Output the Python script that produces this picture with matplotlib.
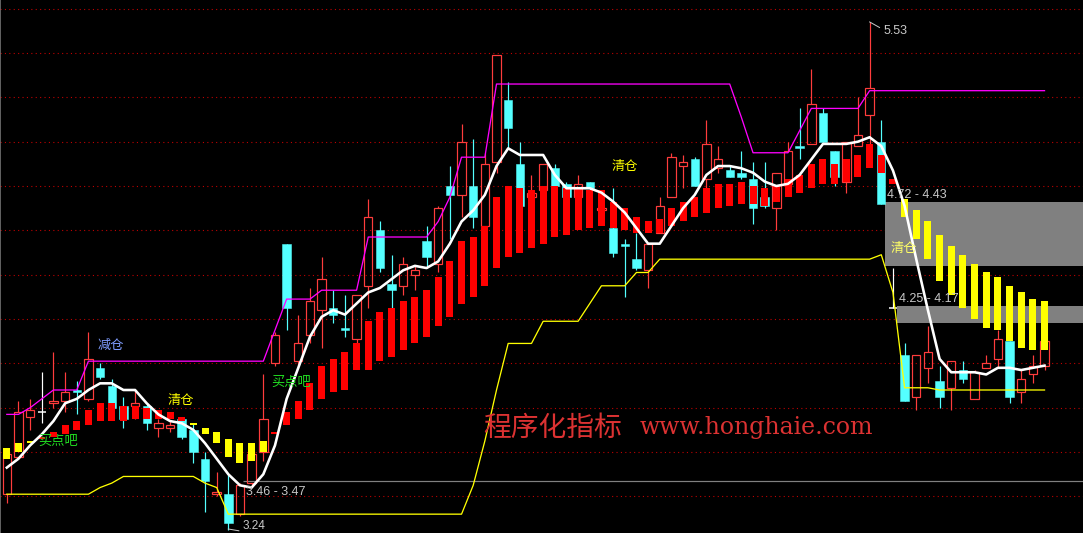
import matplotlib
matplotlib.use("Agg")
import matplotlib.pyplot as plt
from matplotlib.patches import Rectangle
import numpy as np

# ---------------- data (prices) ----------------
opens = [3.40,3.57,3.75,3.77,3.81,3.82,3.87,3.83,3.97,3.89, 3.80,3.80,3.80,3.70,3.70,3.74,3.69,3.56,3.40,3.40,
         3.31,3.45,3.59,3.99,4.53,4.00,4.12,4.23,4.24,4.15, 4.10,4.34,4.59,4.35,4.34,4.39,4.54,4.44,4.79,4.75,
         4.79,4.61,4.90,5.18,4.89,4.74,4.77,4.87,4.80,4.74, 4.81,4.68,4.60,4.53,4.46,4.41,4.58,4.74,4.88,4.91,
         4.82,4.87,4.86,4.85,4.82,4.74,4.69,4.80,4.97,4.98, 5.12,4.95,4.81,4.97,5.11,4.99,4.24,4.03,3.84,3.97,
         3.91,3.88,3.96,3.83,3.97,4.01,4.09,3.86,3.94,3.98]
closes = [3.58,3.77,3.78,3.77,3.82,3.86,3.86,4.01,3.93,3.79, 3.74,3.81,3.72,3.72,3.71,3.66,3.59,3.46,3.41,3.27,
          3.44,3.58,3.74,4.12,4.24,4.08,4.27,4.37,4.21,4.14, 4.30,4.65,4.42,4.32,4.44,4.41,4.47,4.69,4.75,4.99,
          4.65,4.89,5.38,5.05,4.70,4.76,4.89,4.79,4.74,4.80, 4.78,4.69,4.49,4.52,4.42,4.53,4.70,4.92,4.90,4.79,
          4.98,4.91,4.83,4.83,4.69,4.70,4.85,4.95,4.96,5.16, 4.99,4.83,4.99,5.02,5.23,4.71,4.24,3.82,4.03,4.04,
          3.84,4.00,3.92,3.95,3.99,4.10,3.84,3.92,3.98,4.09]
highs = [3.58,3.82,3.83,3.95,4.04,3.95,3.91,4.13,3.99,3.92, 3.84,3.87,3.81,3.74,3.73,3.75,3.72,3.59,3.50,3.49,
         3.45,3.60,3.94,4.13,4.53,4.21,4.33,4.47,4.32,4.30, 4.30,4.73,4.63,4.48,4.47,4.43,4.61,4.70,4.88,5.07,
         5.00,4.94,5.38,5.26,4.99,4.84,4.89,4.89,4.81,4.84, 4.81,4.77,4.78,4.55,4.58,4.53,4.74,4.94,4.93,4.92,
         5.09,4.97,4.88,4.95,4.90,4.90,4.85,4.99,5.14,5.32, 5.14,4.95,4.99,5.19,5.53,5.09,4.42,4.08,4.03,4.16,
         3.98,4.00,4.00,3.96,4.03,4.14,4.09,3.96,4.03,4.09]
lows = [3.36,3.57,3.69,3.72,3.79,3.77,3.76,3.82,3.92,3.78, 3.70,3.74,3.69,3.66,3.68,3.65,3.54,3.32,3.39,3.24,
        3.30,3.44,3.55,3.98,4.14,3.97,4.08,4.06,4.17,4.11, 4.08,4.24,4.40,4.24,4.30,4.32,4.42,4.40,4.55,4.65,
        4.60,4.61,4.85,4.96,4.69,4.73,4.77,4.77,4.73,4.74, 4.77,4.68,4.47,4.29,4.41,4.33,4.58,4.74,4.78,4.79,
        4.78,4.85,4.83,4.82,4.62,4.69,4.59,4.80,4.91,4.98, 4.99,4.79,4.76,4.97,4.98,4.71,4.24,3.82,3.78,3.90,
        3.79,3.78,3.90,3.83,3.97,3.97,3.81,3.81,3.90,3.96]

# indicator columns (top / bottom) and direction (1 = red, 0 = yellow)
ind_top = [3.61,3.63,3.64,3.66,3.68,3.71,3.73,3.78,3.81,3.81, 3.80,3.80,3.79,3.78,3.77,3.75,3.72,3.70,3.68,3.65,
           3.63,3.63,3.64,3.68,3.77,3.82,3.90,3.98,4.01,4.04, 4.08,4.18,4.22,4.24,4.27,4.29,4.32,4.38,4.45,4.54,
           4.56,4.61,4.74,4.79,4.78,4.77,4.79,4.79,4.78,4.78, 4.77,4.77,4.72,4.69,4.65,4.63,4.64,4.69,4.72,4.74,
           4.78,4.80,4.80,4.81,4.79,4.78,4.79,4.82,4.84,4.89, 4.91,4.89,4.91,4.93,4.98,4.93,4.82,4.73,4.68,4.63,
           4.57,4.52,4.48,4.44,4.40,4.38,4.34,4.31,4.28,4.27]
ind_bot = [3.56,3.59,3.63,3.65,3.66,3.67,3.69,3.71,3.73,3.73, 3.73,3.74,3.74,3.74,3.74,3.73,3.71,3.67,3.63,3.57,
           3.54,3.55,3.59,3.67,3.71,3.74,3.78,3.83,3.86,3.87, 3.96,3.96,4.00,4.02,4.05,4.08,4.11,4.16,4.20,4.26,
           4.29,4.34,4.42,4.47,4.49,4.51,4.53,4.56,4.57,4.59, 4.60,4.61,4.60,4.59,4.58,4.58,4.58,4.61,4.63,4.65,
           4.67,4.69,4.70,4.71,4.71,4.70,4.72,4.74,4.76,4.78, 4.80,4.80,4.81,4.83,4.87,4.85,4.80,4.65,4.55,4.46,
           4.36,4.30,4.24,4.19,4.15,4.14,4.09,4.06,4.05,4.05]
ind_up = [0,0,0,1,1,1,1,1,1,1, 1,1,1,1,1,1,0,0,0,0, 0,0,0,1,1,1,1,1,1,1,
          1,1,1,1,1,1,1,1,1,1, 1,1,1,1,1,1,1,1,1,1, 1,1,1,1,1,1,1,1,1,1,
          1,1,1,1,1,1,1,1,1,1, 1,1,1,1,1,1,1,0,0,0, 0,0,0,0,0,0,0,0,0,0]

# upper (magenta) and lower (yellow) stair lines, white smooth line
upper_line = [3.76,3.76,3.79,3.83,3.87,3.87,3.87,4.00,4.00,4.00, 4.00,4.00,4.00,4.00,4.00,4.00,4.00,4.00,4.00,4.00,
              4.00,4.00,4.00,4.14,4.28,4.28,4.28,4.32,4.32,4.32, 4.32,4.56,4.56,4.56,4.56,4.56,4.56,4.63,4.74,4.92,
              4.92,4.92,5.25,5.25,5.25,5.25,5.25,5.25,5.25,5.25, 5.25,5.25,5.25,5.25,5.25,5.25,5.25,5.25,5.25,5.25,
              5.25,5.25,5.25,5.10,4.94,4.94,4.94,4.94,5.04,5.14, 5.14,5.14,5.14,5.14,5.22,5.22,5.22,5.22,5.22,5.22,
              5.22,5.22,5.22,5.22,5.22,5.22,5.22,5.22,5.22,5.22]
lower_line = [3.40,3.40,3.40,3.40,3.40,3.40,3.40,3.40,3.43,3.45, 3.48,3.48,3.48,3.48,3.48,3.48,3.48,3.45,3.43,3.31,
              3.31,3.31,3.31,3.31,3.31,3.31,3.31,3.31,3.31,3.31, 3.31,3.31,3.31,3.31,3.31,3.31,3.31,3.31,3.31,3.31,
              3.44,3.64,3.87,4.08,4.08,4.08,4.18,4.18,4.18,4.18, 4.26,4.34,4.34,4.34,4.40,4.40,4.46,4.46,4.46,4.46,
              4.46,4.46,4.46,4.46,4.46,4.46,4.46,4.46,4.46,4.46, 4.46,4.46,4.46,4.46,4.46,4.48,4.31,3.88,3.88,3.88,
              3.87,3.87,3.87,3.87,3.87,3.87,3.87,3.87,3.87,3.87]
mid_line = [3.52,3.56,3.62,3.67,3.73,3.81,3.83,3.87,3.90,3.90, 3.87,3.87,3.81,3.76,3.73,3.72,3.69,3.63,3.56,3.49,
            3.44,3.43,3.49,3.62,3.83,3.97,4.11,4.20,4.23,4.21, 4.26,4.31,4.33,4.37,4.41,4.43,4.42,4.45,4.53,4.63,
            4.68,4.75,4.88,4.96,4.93,4.93,4.93,4.84,4.78,4.78, 4.78,4.76,4.72,4.67,4.60,4.53,4.53,4.61,4.69,4.75,
            4.84,4.88,4.88,4.87,4.85,4.81,4.79,4.80,4.84,4.91, 4.98,4.98,4.98,4.99,5.01,4.97,4.86,4.70,4.46,4.23,
            4.01,3.95,3.95,3.95,3.94,3.97,3.97,3.96,3.97,3.98]

grid_levels = [5.59, 5.39, 5.19, 4.99, 4.79, 4.59, 4.39, 4.19, 3.99, 3.79, 3.59, 3.39]
zones = [(75.3, 4.72, 4.43), (76.35, 4.25, 4.17)]
zone_labels = ["4.72 - 4.43", "4.25 - 4.17"]
line_346 = (20.25, 3.46)

# ---------------- figure ----------------
W, H, DPI = 1083, 533, 100
fig = plt.figure(figsize=(W / DPI, H / DPI), dpi=DPI, facecolor="black")
ax = fig.add_axes([0, 0, 1, 1])
ax.set_facecolor("black")
XMIN, XMAX = -0.583, 92.30
YMIN, YMAX = 3.225, 5.629
ax.set_xlim(XMIN, XMAX)
ax.set_ylim(YMIN, YMAX)
ax.axis("off")

px = 72.0 / DPI  # one pixel in points
RED = "#ff3c3c"
CYAN = "#54ffff"
CJK = ["Noto Sans CJK SC", "DejaVu Sans"]

# grid
ax.hlines(grid_levels, XMIN, XMAX, colors="#c00000", linestyles=(0, (1, 3)), lw=1.1 * px, zorder=1)
# left border
ax.axvline(XMIN + 0.04, color="#808080", lw=1.5 * px, zorder=1)

# zones
for (x0, top, bot) in zones:
    ax.add_patch(Rectangle((x0, bot), XMAX - x0, top - bot, facecolor="#808080", edgecolor="none", zorder=2))
ax.hlines(line_346[1], line_346[0], XMAX, colors="#808080", lw=1.2 * px, zorder=2)

# candles
n = len(opens)
x = np.arange(n)
bw = 0.72
for i in range(n):
    o, c, h, l = opens[i], closes[i], highs[i], lows[i]
    if c > o:
        ax.add_patch(Rectangle((i - bw / 2, o), bw, c - o, fill=False, edgecolor=RED, lw=1.2 * px, zorder=3))
        if h > c:
            ax.vlines(i, c, h, colors=RED, lw=1.2 * px, zorder=3)
        if l < o:
            ax.vlines(i, l, o, colors=RED, lw=1.2 * px, zorder=3)
    elif c < o:
        ax.vlines(i, l, h, colors=CYAN, lw=1.2 * px, zorder=3)
        ax.add_patch(Rectangle((i - bw / 2, c), bw, o - c, facecolor=CYAN, edgecolor=CYAN, lw=0.5 * px, zorder=3))
    else:
        ax.vlines(i, l, h, colors="white", lw=1.2 * px, zorder=3)
        ax.hlines(o, i - bw / 2, i + bw / 2, colors="white", lw=1.5 * px, zorder=3)

# indicator columns
iw = 0.6
for i in range(n):
    col = "#ff0000" if ind_up[i] else "#ffff00"
    hgt = max(ind_top[i] - ind_bot[i], 0.006)
    ax.add_patch(Rectangle((i - iw / 2, ind_bot[i]), iw, hgt, facecolor=col, edgecolor="none", zorder=4))

# lines
ax.plot(x, upper_line, color="#ff00ff", lw=1.3 * px, zorder=5)
ax.plot(x, lower_line, color="#ffff00", lw=1.3 * px, zorder=5)
ax.plot(x, mid_line, color="white", lw=2.6 * px, zorder=6, solid_joinstyle="round")

# signal texts
def cjk(xx, yy, s, col, size=9.5):
    ax.text(xx, yy, s, color=col, fontsize=size, family=CJK, ha="center", va="center", zorder=8)

cjk(8.9, 4.07, "减仓", "#7f9cff")
cjk(4.43, 3.64, "买点吧", "#22e022")
cjk(14.9, 3.823, "清仓", "#ffff00")
cjk(24.42, 3.905, "买点吧", "#22e022")
cjk(52.98, 4.88, "清仓", "#ffff00")
cjk(76.95, 4.51, "清仓", "#ffff66")

# price labels
LBL = "#c8c8c8"
ax.text(75.15, 5.49, "5.53", color=LBL, fontsize=9, family="Liberation Sans", ha="left", va="center", zorder=8)
ax.plot([74.0, 74.85], [5.53, 5.505], color=LBL, lw=1 * px, zorder=8)
ax.text(20.2, YMIN + 0.003, "3.24", color=LBL, fontsize=8.5, family="Liberation Sans", ha="left", va="bottom", zorder=8)
ax.plot([19.0, 19.9], [3.243, 3.235], color=LBL, lw=1 * px, zorder=8)
ax.text(20.5, 3.41, "3.46 - 3.47", color=LBL, fontsize=9, family="Liberation Sans", ha="left", va="center", zorder=8)
ax.text(75.5, 4.75, zone_labels[0], color=LBL, fontsize=9, family="Liberation Sans", ha="left", va="center", zorder=8)
ax.text(76.5, 4.28, zone_labels[1], color=LBL, fontsize=9, family="Liberation Sans", ha="left", va="center", zorder=8)

# watermark
WM = "#dc3232"
ax.text(40.84, 3.70, "程序化指标", color=WM, fontsize=20, family=CJK, ha="left", va="center", zorder=7)
ax.text(54.3, 3.70, "www.honghaie.com", color=WM, fontsize=17, family="DejaVu Serif", ha="left", va="center", zorder=7)

fig.savefig("out.png", dpi=DPI, facecolor="black")
